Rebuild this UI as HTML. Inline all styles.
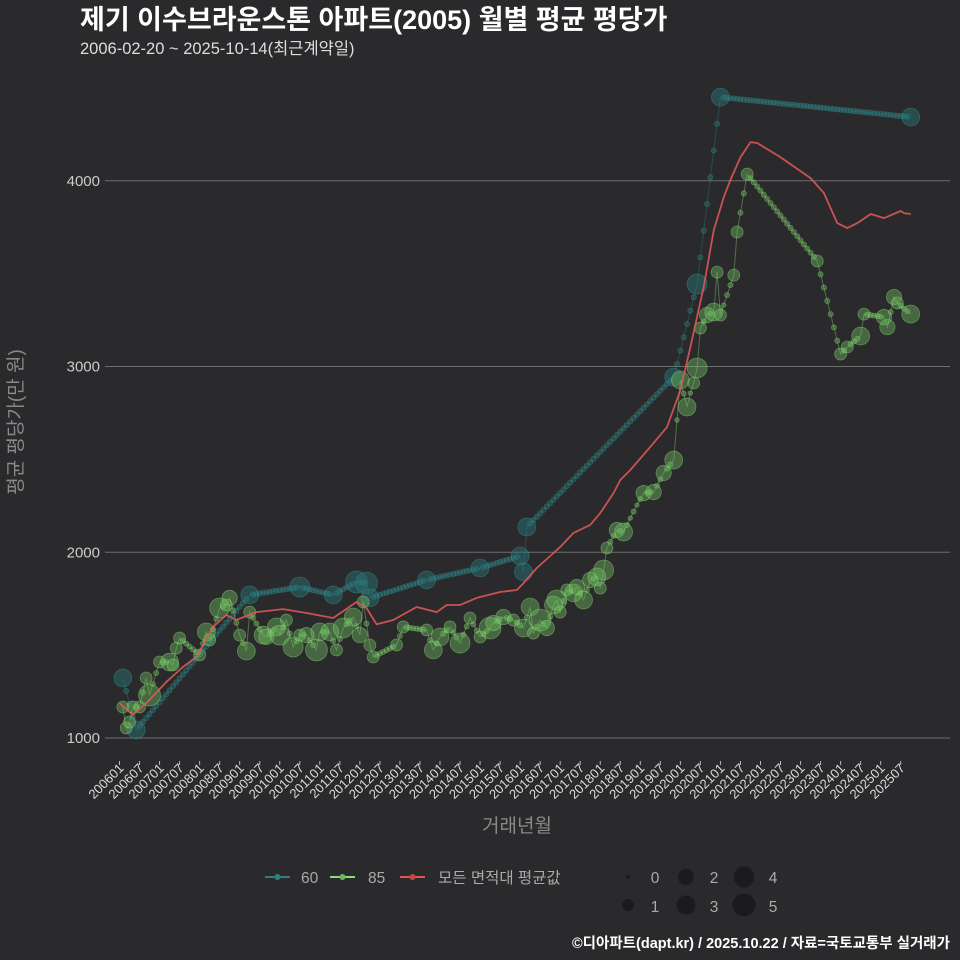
<!DOCTYPE html>
<html><head><meta charset="utf-8">
<style>
html,body{margin:0;padding:0;background:#2a292b;}
svg{display:block;font-family:"Liberation Sans","Noto Sans CJK KR",sans-serif;}
</style></head>
<body>
<svg id="chart" width="960" height="960" viewBox="0 0 960 960" xmlns="http://www.w3.org/2000/svg">
<rect width="960" height="960" fill="#2a292b"/>
<text x="80" y="29" fill="#ffffff" font-size="27" font-weight="bold">제기 이수브라운스톤 아파트(2005) 월별 평균 평당가</text>
<text x="80" y="54" fill="#dddddd" font-size="16.5">2006-02-20 ~ 2025-10-14(최근계약일)</text>
<g id="grid"></g>
<g id="yticks"></g>
<g id="xticks"></g>
<text x="517" y="832" fill="#8a8a8a" font-size="19" text-anchor="middle">거래년월</text>
<text transform="translate(22,422) rotate(-90)" fill="#8a8a8a" font-size="19" text-anchor="middle">평균 평당가(만 원)</text>
<g id="series60"></g>
<g id="series85"></g>
<g id="seriesAvg"></g>
<g id="legend">
  <g>
    <line x1="265" y1="877" x2="290" y2="877" stroke="#2e8080" stroke-width="2"/>
    <circle cx="277.5" cy="877" r="3" fill="#2e8080"/>
    <text x="301" y="883" fill="#aaaaaa" font-size="15.5">60</text>
  </g>
  <g>
    <line x1="330" y1="877" x2="355" y2="877" stroke="#8fdc77" stroke-width="2"/>
    <circle cx="342.5" cy="877" r="3" fill="#6fb75d"/>
    <text x="368" y="883" fill="#aaaaaa" font-size="15.5">85</text>
  </g>
  <g>
    <line x1="400" y1="877" x2="425" y2="877" stroke="#e05555" stroke-width="2"/>
    <circle cx="412.5" cy="877" r="3" fill="#c04848"/>
    <text x="438" y="883" fill="#aaaaaa" font-size="15.5">모든 면적대 평균값</text>
  </g>
  <g>
    <circle cx="628" cy="877" r="2" fill="#1b1a1c"/><text x="655" y="883" fill="#aaaaaa" font-size="15.5" text-anchor="middle">0</text>
    <circle cx="628" cy="905" r="6" fill="#1b1a1c"/><text x="655" y="912" fill="#aaaaaa" font-size="15.5" text-anchor="middle">1</text>
    <circle cx="686" cy="877" r="8" fill="#1b1a1c"/><text x="714" y="883" fill="#aaaaaa" font-size="15.5" text-anchor="middle">2</text>
    <circle cx="686" cy="905" r="9.5" fill="#1b1a1c"/><text x="714" y="912" fill="#aaaaaa" font-size="15.5" text-anchor="middle">3</text>
    <circle cx="744" cy="877" r="10.5" fill="#1b1a1c"/><text x="773" y="883" fill="#aaaaaa" font-size="15.5" text-anchor="middle">4</text>
    <circle cx="744" cy="905" r="11.5" fill="#1b1a1c"/><text x="773" y="912" fill="#aaaaaa" font-size="15.5" text-anchor="middle">5</text>
  </g>
</g>
<text x="950" y="948" fill="#ffffff" font-size="14.5" font-weight="bold" text-anchor="end">©디아파트(dapt.kr) / 2025.10.22 / 자료=국토교통부 실거래가</text>
</svg>
<script>
const yTicks = [1000, 2000, 3000, 4000];
const xTickLabels = ['200601','200607','200701','200707','200801','200807','200901','200907','201001','201007','201101','201107','201201','201207','201301','201307','201401','201407','201501','201507','201601','201607','201701','201707','201801','201807','201901','201907','202001','202007','202101','202107','202201','202207','202301','202307','202401','202407','202501','202507'];

// month index = months since 2006-01
const s60Months = [1,5,39,54,64,71,74,75,92,108,120,121,122,166,173,180,237];
const s60Values = [1323,1043,1770,1813,1770,1840,1834,1754,1851,1915,1980,1894,2136,2943,3444,4450,4343];
const s60Counts = [3,3,3,4,3,5,5,3,3,3,3,3,3,3,4,3,3];

const s85Months = [1,2,3,4,6,8,9,12,15,16,17,18,24,26,27,30,32,33,36,38,39,43,44,47,48,50,52,54,56,59,60,63,65,67,70,72,73,75,76,83,85,92,94,96,99,102,105,108,111,112,115,118,121,123,124,126,128,130,131,132,134,136,137,139,141,143,144,145,146,149,151,153,155,157,160,163,166,167,168,170,171,172,173,174,176,178,179,180,181,184,185,188,209,216,218,222,223,229,230,232,233,237];
const s85Values = [1167,1054,1086,1167,1167,1323,1231,1409,1409,1393,1484,1538,1447,1571,1528,1700,1716,1754,1554,1468,1678,1554,1544,1598,1554,1635,1490,1554,1554,1474,1571,1571,1474,1592,1651,1554,1732,1500,1436,1501,1598,1581,1474,1544,1598,1511,1646,1544,1592,1619,1651,1635,1592,1705,1565,1635,1592,1716,1743,1678,1797,1781,1813,1743,1851,1867,1807,1904,2023,2120,2109,2184,2254,2319,2324,2427,2496,2712,2927,2782,2857,2911,2992,3207,3277,3293,3508,3277,3331,3492,3724,4036,3568,3067,3105,3164,3282,3266,3212,3374,3342,3282];
const s85Counts = [1,1,1,1,1,1,5,1,3,1,1,1,1,3,1,4,1,2,1,3,1,3,2,3,4,1,4,1,2,5,3,3,1,4,3,2,1,1,1,1,1,1,3,3,1,4,1,1,5,2,2,1,3,3,1,5,2,3,4,1,1,3,2,3,2,3,1,4,1,2,3,0,0,2,2,2,3,0,3,3,0,1,4,1,2,3,1,1,0,1,1,1,1,1,1,3,1,2,2,2,1,3];

const avgMonths = [0,4,9,14,19,23,28,32,35,41,49,56,64,71,74,77,82,89,95,98,102,107,114,119,121,125,132,136,141,144,148,150,153,159,164,168,171,175,178,181,183,186,189,191,198,207,211,215,218,221,225,229,234,235,237];
const avgValues = [1188,1124,1205,1301,1382,1436,1598,1662,1635,1678,1694,1673,1646,1732,1700,1612,1635,1705,1678,1716,1716,1754,1786,1797,1834,1915,2028,2104,2147,2211,2319,2389,2443,2567,2674,2873,3105,3428,3735,3912,4004,4127,4208,4203,4127,4014,3934,3772,3745,3772,3821,3799,3837,3826,3821];

const NS = 'http://www.w3.org/2000/svg';
function xScale(m){ return 119.5 + m * 3.3385; }
function yScale(v){ return 738 - (v - 1000) * 0.18575; }
function rScale(c){ return c === 0 ? 2.2 : 2 + 4 * Math.sqrt(c); }
function mk(tag, attrs, parent){
  const e = document.createElementNS(NS, tag);
  for (const k in attrs) e.setAttribute(k, attrs[k]);
  parent.appendChild(e);
  return e;
}

const grid = document.getElementById('grid');
const yt = document.getElementById('yticks');
yTicks.forEach(v => {
  const l = mk('line', {x1:105, x2:950, y1:yScale(v), y2:yScale(v), stroke:'#6e6e6e', 'stroke-width':1}, grid);
  
  
  const t = mk('text', {x:100, y:yScale(v)+5, fill:'#cccccc', 'font-size':15, 'text-anchor':'end'}, yt);
  t.textContent = v;
  
  
});

const xt = document.getElementById('xticks');
xTickLabels.forEach((lab, i) => {
  const yr = +lab.slice(0,4), mo = +lab.slice(4);
  const m = (yr - 2006) * 12 + (mo - 1);
  const x = xScale(m);
  const tk = mk('line', {x1:x, x2:x, y1:761, y2:765, stroke:'#bbbbbb', 'stroke-width':1}, xt);
  
  
  const t = mk('text', {x:0, y:0, fill:'#dddddd', 'font-size':13, 'text-anchor':'end', transform:'translate(' + (x+5) + ',769) rotate(-45)'}, xt);
  t.textContent = lab;
  
  
});

function drawSeries(gid, months, values, counts, lineCol, fill, stroke, dotFill){
  const g = document.getElementById(gid);
  let d = '';
  months.forEach((m, i) => { d += (i ? 'L' : 'M') + xScale(m).toFixed(1) + ',' + yScale(values[i]).toFixed(1); });
  const p = mk('path', {d:d, fill:'none', stroke:lineCol, 'stroke-width':1, 'stroke-opacity':0.4}, g);
  
  
  for (let i = 0; i < months.length - 1; i++) {
    const m0 = months[i], m1 = months[i+1];
    for (let m = m0 + 1; m < m1; m++) {
      const v = values[i] + (values[i+1] - values[i]) * (m - m0) / (m1 - m0);
      const c = mk('circle', {cx:xScale(m), cy:yScale(v), r:2.6, fill:dotFill, stroke:stroke, 'stroke-width':0.7}, g);
      
      
    }
  }
  months.forEach((m, i) => {
    const c = mk('circle', {cx:xScale(m), cy:yScale(values[i]), r:rScale(counts[i]), fill:fill, stroke:stroke, 'stroke-width':0.8}, g);
    
    
  });
}
drawSeries('series60', s60Months, s60Values, s60Counts, '#2e8080', 'rgba(40,120,122,0.45)', 'rgba(60,150,150,0.45)', 'rgba(40,120,122,0.4)');
drawSeries('series85', s85Months, s85Values, s85Counts, '#8fdc77', 'rgba(110,190,95,0.42)', 'rgba(150,225,130,0.45)', 'rgba(110,190,95,0.4)');

const ga = document.getElementById('seriesAvg');
let da = '';
avgMonths.forEach((m, i) => { da += (i ? 'L' : 'M') + xScale(m).toFixed(1) + ',' + yScale(avgValues[i]).toFixed(1); });
const ap = mk('path', {d:da, fill:'none', stroke:'#e35b5b', 'stroke-width':1.8, 'stroke-linejoin':'round', 'stroke-opacity':0.85}, ga);


</script>
</body></html>
